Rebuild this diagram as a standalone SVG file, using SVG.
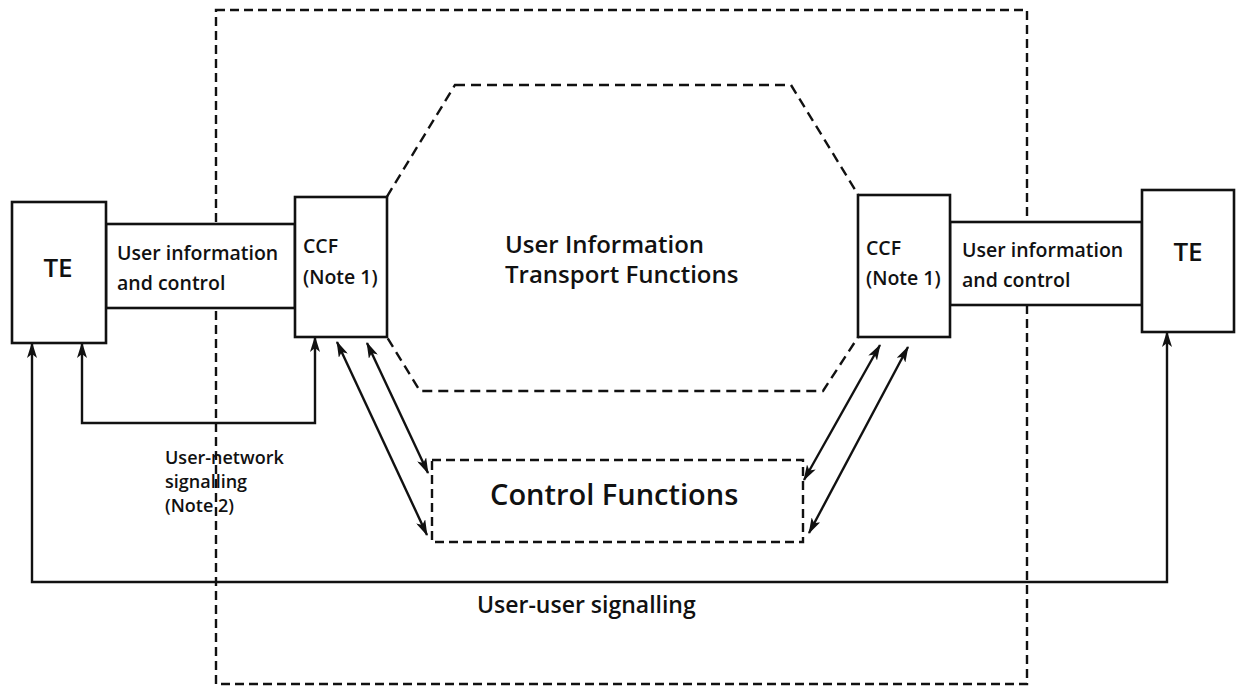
<svg xmlns="http://www.w3.org/2000/svg" width="1236" height="690" viewBox="0 0 1236 690">
<style>
.solid{fill:#fff;stroke:#111;stroke-width:2.6}
.dash{fill:none;stroke:#111;stroke-width:2.4;stroke-dasharray:9 5}
.dashhex{fill:none;stroke:#111;stroke-width:2.4;stroke-dasharray:10 6}
.conn{fill:none;stroke:#111;stroke-width:2.4}
text{font-family:"Open Sans","Liberation Sans",sans-serif;fill:#111;font-weight:600}
.lbl{font-size:19.5px}
.te{font-size:26px}
.big{font-size:24px}
.cf{font-size:29px}
.sig{font-size:18px}
.uu{font-size:23px}
</style>
<defs>
<marker id="ah" viewBox="0 0 16 10" refX="15" refY="5" markerWidth="16" markerHeight="10" markerUnits="userSpaceOnUse" orient="auto-start-reverse">
<path d="M0,0 L16,5 L0,10 L4,5 z" fill="#111"/>
</marker>
</defs>
<rect width="1236" height="690" fill="#fff"/>

<g id="network-boundary">
<rect class="dash" x="216" y="10" width="811" height="674"/>
</g>

<g id="transport-functions">
<polygon class="dashhex" points="455,85 791,85 903,268 823,391 420,391 344,267"/>
<text class="big" x="505" y="253">User Information</text>
<text class="big" x="505" y="283">Transport Functions</text>
</g>

<g id="control-functions">
<rect class="dash" x="432" y="460" width="371" height="82"/>
<text class="cf" x="490" y="505">Control Functions</text>
</g>

<g id="channel-left">
<rect class="solid" x="106" y="224" width="189" height="84"/>
<text class="lbl" x="117" y="260">User information</text>
<text class="lbl" x="117" y="290">and control</text>
</g>

<g id="channel-right">
<rect class="solid" x="950" y="222" width="192" height="83"/>
<text class="lbl" x="962" y="257">User information</text>
<text class="lbl" x="962" y="287">and control</text>
</g>

<g id="te-left">
<rect class="solid" x="12" y="202" width="94" height="141"/>
<text class="te" x="58" y="277" text-anchor="middle">TE</text>
</g>

<g id="te-right">
<rect class="solid" x="1142" y="190" width="92" height="142"/>
<text class="te" x="1188" y="261" text-anchor="middle">TE</text>
</g>

<g id="ccf-left">
<rect class="solid" x="295" y="197" width="92" height="140"/>
<text class="lbl" x="303" y="253">CCF</text>
<text class="lbl" x="303" y="284">(Note 1)</text>
</g>

<g id="ccf-right">
<rect class="solid" x="858" y="195" width="92" height="142"/>
<text class="lbl" x="866" y="255">CCF</text>
<text class="lbl" x="866" y="285">(Note 1)</text>
</g>

<g id="connectors">
<polyline class="conn" points="82,343 82,423 315,423 315,337" marker-start="url(#ah)" marker-end="url(#ah)"/>
<polyline class="conn" points="32,343 32,582 1167,582 1167,332" marker-start="url(#ah)" marker-end="url(#ah)"/>
<line class="conn" x1="337" y1="342" x2="427" y2="535" marker-start="url(#ah)" marker-end="url(#ah)"/>
<line class="conn" x1="367" y1="343" x2="428" y2="473" marker-start="url(#ah)" marker-end="url(#ah)"/>
<line class="conn" x1="880" y1="345" x2="804" y2="480" marker-start="url(#ah)" marker-end="url(#ah)"/>
<line class="conn" x1="908" y1="347" x2="809" y2="533" marker-start="url(#ah)" marker-end="url(#ah)"/>
</g>

<g id="labels">
<text class="sig" x="165" y="464">User-network</text>
<text class="sig" x="165" y="488">signalling</text>
<text class="sig" x="165" y="512">(Note 2)</text>
<text class="uu" x="477" y="613">User-user signalling</text>
</g>
</svg>
